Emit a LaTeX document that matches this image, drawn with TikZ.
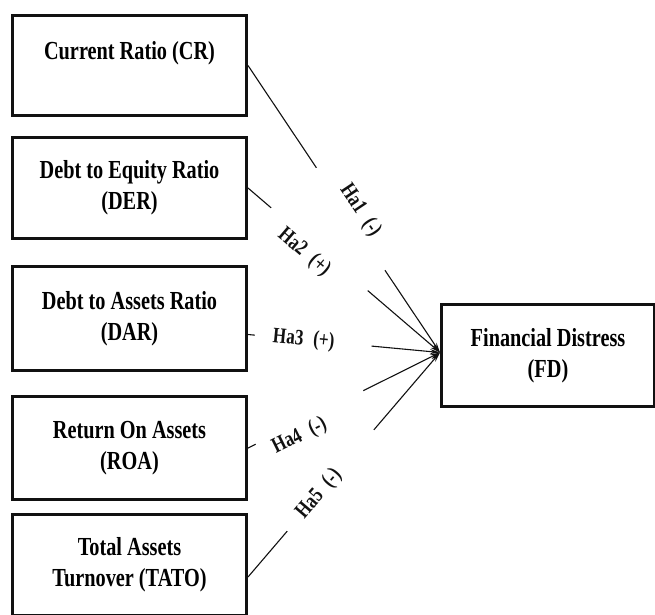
\documentclass[tikz,border=0pt]{standalone}
\usepackage{fontspec}
\setmainfont[FakeStretch=0.78]{Liberation Serif}
\usepackage{tikz}
\usetikzlibrary{arrows.meta, positioning}
\definecolor{ink}{HTML}{111111}

\begin{document}
\begin{tikzpicture}[x=1pt, y=-1pt,
  font=\bfseries\fontsize{26}{31}\selectfont,
  varbox/.style={draw=ink, line width=3pt, minimum width=234pt, align=center, inner sep=2pt},
  hyp/.style={draw=ink, line width=1.1pt, -{Stealth[length=10pt, width=5pt]}},
  linegap/.style={sloped, fill=white, inner sep=0pt, minimum height=7pt, minimum width=#1},
  hlabel/.style={sloped, inner sep=2pt, text=ink, font=\bfseries\fontsize{22}{24}\selectfont}]
  % Frame
  \useasboundingbox (0,0) rectangle (655,614);
  % Independent variables
  \node[varbox, minimum height=100pt] (cr) at (129.5,65.5) {Current Ratio (CR)\\~};
  \node[varbox, minimum height=101pt] (der) at (129.5,188) {Debt to Equity Ratio\\(DER)};
  \node[varbox, minimum height=104pt] (dar) at (129.5,318.5) {Debt to Assets Ratio\\(DAR)};
  \node[varbox, minimum height=103pt] (roa) at (129.5,448) {Return On Assets\\(ROA)};
  \node[varbox, minimum height=101pt] (tato) at (129.5,565) {Total Assets\\Turnover (TATO)};
  % Dependent variable
  \node[varbox, minimum width=213pt, minimum height=102pt] (fd) at (548,355.5) {Financial Distress\\(FD)};
  \coordinate (tip) at ([yshift=3pt]fd.west);
  % Hypotheses (white gaps break the lines at the labels)
  \draw[hyp] (cr.east) -- node[linegap=123pt, pos=0.535] {}
    node[hlabel, pos=0.53, anchor=south] {Ha1\hspace{10pt}(-)} (tip);
  \draw[hyp] (der.east) -- node[linegap=127pt, pos=0.372] {}
    node[hlabel, pos=0.334, anchor=north] {Ha2\hspace{10pt}(+)} (tip);
  \draw[hyp] ([yshift=-16pt]dar.east) -- node[linegap=117pt, pos=0.34] {}
    node[hlabel, pos=0.29] {Ha3\hspace{10pt}(+)} (tip);
  \draw[hyp] (roa.east) -- node[linegap=120pt, pos=0.32] {}
    node[hlabel, pos=0.24, anchor=north] {Ha4\hspace{10pt}(-)} (tip);
  \draw[hyp] ([yshift=-12pt]tato.east) -- node[linegap=133pt, pos=0.43] {}
    node[hlabel, pos=0.37] {Ha5\hspace{10pt}(-)} (tip);
\end{tikzpicture}
\end{document}
